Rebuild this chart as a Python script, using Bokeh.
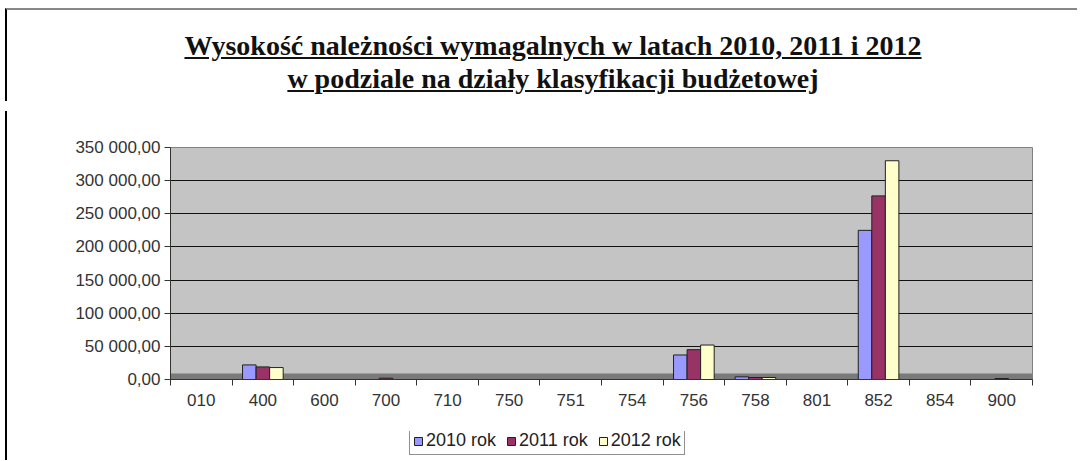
from bokeh.plotting import figure
from bokeh.models import (Div, FixedTicker, Legend, LegendItem, BoxAnnotation,
                          Range1d, ColumnDataSource)
from bokeh.layouts import column, row
from bokeh.embed import file_html
from bokeh.resources import INLINE

# ---- data ----
categories = ["010", "400", "600", "700", "710", "750", "751", "754",
              "756", "758", "801", "852", "854", "900"]
series_names = ["2010 rok", "2011 rok", "2012 rok"]
values_2010 = [0, 22000, 0, 0, 0, 0, 0, 0, 37000, 4000, 0, 225000, 0, 0]
values_2011 = [0, 19000, 0, 2000, 0, 0, 0, 0, 45000, 3000, 0, 277000, 0, 1500]
values_2012 = [0, 18000, 0, 0, 0, 0, 0, 0, 52000, 3000, 0, 330000, 0, 0]
y_ticks = [0, 50000, 100000, 150000, 200000, 250000, 300000, 350000]
y_tick_labels = ["0,00", "50 000,00", "100 000,00", "150 000,00",
                 "200 000,00", "250 000,00", "300 000,00", "350 000,00"]
title_line1 = "Wysokość należności wymagalnych w latach 2010, 2011 i 2012"
title_line2 = "w podziale na działy klasyfikacji budżetowej"
colors = ["#9999FF", "#993366", "#FFFFCC"]

n = len(categories)
centers = [i + 0.5 for i in range(n)]
boundaries = [float(i) for i in range(n + 1)]

title_div = Div(
    text=(f'<div style="box-sizing:border-box;width:1072px;height:93px;'
          f'border-left:2px solid #000;border-top:2px solid #888;margin-top:3px;'
          f'text-align:center;font-family:\'Liberation Serif\';'
          f'font-weight:bold;font-size:28px;line-height:33px;padding-left:22px;'
          f'text-decoration:underline;color:#111;padding-top:19px;">'
          f'{title_line1}<br>{title_line2}</div>'),
    width=1072, height=96,
)

P_H, L_H = 325, 24
left_line = Div(text=f'<div style="width:2px;height:{P_H + L_H}px;background:#000;"></div>',
                width=2, height=P_H + L_H)

p = figure(width=1070, height=P_H, output_backend="svg", toolbar_location=None,
           x_range=Range1d(0, n), y_range=Range1d(0, 350000),
           min_border_left=158, min_border_right=50,
           min_border_top=41, min_border_bottom=52)
p.background_fill_color = "#C4C4C4"
p.border_fill_color = "white"
p.outline_line_color = "#808080"

# floor of the chart
floor = BoxAnnotation(bottom=0, top=9000, fill_color="#7a7a7a", fill_alpha=1.0,
                      line_color=None, level="underlay")
p.add_layout(floor)

series = [values_2010, values_2011, values_2012]
offsets = [-0.22, 0.0, 0.22]
for vals, off, col in zip(series, offsets, colors):
    src = ColumnDataSource(dict(x=[c + off for c in centers], top=vals))
    p.vbar(x="x", top="top", bottom=0, width=0.22, source=src,
           fill_color=col, line_color="#202020", line_width=1)

# axes
p.yaxis.ticker = FixedTicker(ticks=y_ticks)
p.yaxis.major_label_overrides = {t: lab for t, lab in zip(y_ticks, y_tick_labels)}
p.yaxis.major_label_text_font = "Liberation Sans"
p.yaxis.major_label_text_font_size = "17px"
p.yaxis.major_label_text_color = "#333333"
p.yaxis.axis_line_color = "#333333"
p.yaxis.major_tick_line_color = "#333333"
p.yaxis.major_tick_out = 6
p.yaxis.major_tick_in = 0
p.yaxis.minor_tick_line_color = None
p.yaxis.major_label_standoff = 4

p.xaxis.ticker = FixedTicker(ticks=centers, minor_ticks=boundaries)
p.xaxis.major_label_overrides = {c: lab for c, lab in zip(centers, categories)}
p.xaxis.major_label_text_font = "Liberation Sans"
p.xaxis.major_label_text_font_size = "17px"
p.xaxis.major_label_text_color = "#333333"
p.xaxis.axis_line_color = "#333333"
p.xaxis.major_tick_line_color = None
p.xaxis.minor_tick_line_color = "#333333"
p.xaxis.minor_tick_out = 6
p.xaxis.minor_tick_in = 0
p.xaxis.major_label_standoff = 8

p.xgrid.grid_line_color = None
p.ygrid.ticker = FixedTicker(ticks=y_ticks)
p.ygrid.grid_line_color = "#111111"
p.ygrid.grid_line_width = 1

# legend strip below the chart (proxy glyphs sit outside the visible range)
pl = figure(width=1070, height=L_H, output_backend="svg", toolbar_location=None,
            x_range=Range1d(0, 1), y_range=Range1d(0, 1),
            x_axis_type=None, y_axis_type=None, min_border=0)
pl.outline_line_color = None
pl.grid.visible = False
items = []
for nm, col in zip(series_names, colors):
    r = pl.vbar(x=[-5], top=[-5], bottom=-6, width=0.1, fill_color=col,
                line_color="#202020")
    items.append(LegendItem(label=nm, renderers=[r]))
legend = Legend(
    items=items, orientation="horizontal", location=(239, 0),
    label_text_font="Liberation Sans", label_text_font_size="18px",
    label_text_color="#222222",
    glyph_width=10, glyph_height=10, label_standoff=3, spacing=10,
    padding=3, margin=0,
    border_line_color="#222222", border_line_width=1,
    background_fill_color="white", background_fill_alpha=1.0,
    label_height=18,
)
pl.add_layout(legend, "center")

layout = column(title_div, row(left_line, column(p, pl)))

open("out.html", "w").write(file_html(layout, INLINE))
